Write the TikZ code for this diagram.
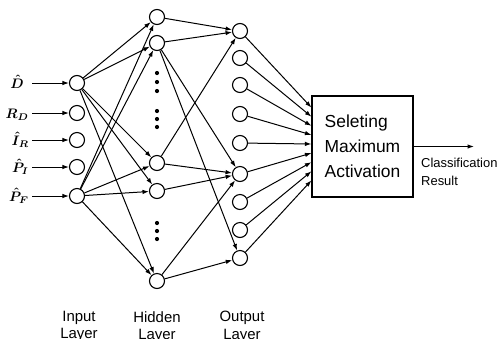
\documentclass[tikz,border=0pt]{standalone}
\usepackage{fontspec}
\setmainfont{Liberation Sans}
\usetikzlibrary{arrows.meta,calc}
\tikzset{
  neuron/.style={circle, draw, minimum size=15bp, inner sep=0pt, line width=1.1bp},
  conn/.style={-{Latex[length=6.5bp,width=4.5bp]}, line width=1bp},
  dotmark/.style={circle, fill, minimum size=4.2bp, inner sep=0pt},
  inlabel/.style={anchor=base east, inner sep=0pt},
  layerlabel/.style={anchor=north, inner sep=0pt, align=center, font=\fontsize{15}{17.5}\selectfont},
}
\newcommand{\inlab}[1]{\scalebox{1.38}{\boldmath$#1$}}
\begin{document}
\begin{tikzpicture}[x=1bp, y=-1bp]
\useasboundingbox (0,0) rectangle (504,338);

% input layer
\foreach \n/\y in {1/83, 2/113, 3/140, 4/167, 5/196} {
  \node[neuron] (i\n) at (77,\y) {};
}
% hidden layer
\foreach \n/\y in {1/17, 2/43, 3/163, 4/191, 5/281} {
  \node[neuron] (h\n) at (157,\y) {};
}
% output layer
\foreach \n/\y in {1/31, 2/58, 3/85, 4/114, 5/143, 6/174, 7/202, 8/230, 9/258} {
  \node[neuron] (o\n) at (240,\y) {};
}
% dots in hidden layer
\foreach \k/\y in {a/73, b/82, c/91, d/111, e/119, f/127, g/223, h/231, i/239} {
  \node[dotmark] (dot\k) at (157,\y) {};
}

% input labels and arrows
\node[inlabel] (l1) at (24,88) {\inlab{\hat{D}}};
\node[inlabel] (l2) at (29,118) {\inlab{R_D}};
\node[inlabel] (l3) at (29,145) {\inlab{\hat{I}_R}};
\node[inlabel] (l4) at (29,172) {\inlab{\hat{P}_I}};
\node[inlabel] (l5) at (29,201) {\inlab{\hat{P}_F}};
\foreach \n/\y in {1/83, 2/113, 3/140, 4/167, 5/196} {
  \coordinate (s\n) at (32,\y);
  \draw[conn] (s\n) -- (i\n);
}

% input -> hidden
\foreach \h in {1,...,5} {
  \draw[conn] (i1) -- (h\h);
  \draw[conn] (i5) -- (h\h);
}

% hidden -> output
\foreach \a/\b in {h1/o1, h2/o1, h3/o1, h2/o6, h3/o6, h4/o6, h5/o6, h2/o9, h5/o9} {
  \draw[conn] (\a) -- (\b);
}

% selection box
\node[draw, line width=1.1bp, minimum width=101bp, minimum height=101bp, inner sep=0pt,
      align=left, font=\fontsize{17.5}{25}\selectfont] (box) at (362.5,146.5)
      {Seleting\\Maximum\\Activation};

% output -> box
\foreach \n in {1,...,9} {
  \pgfmathsetmacro{\t}{0.119+0.0891*(\n-1)}
  \draw[conn] (o\n) -- ($(box.north west)!\t!(box.south west)$);
}

% result
\coordinate (res) at (474,146.5);
\draw[conn] (box.east) -- (res);
\node[anchor=west, inner sep=0pt, align=left, font=\fontsize{13}{17.5}\selectfont] (cls) at (421,172)
  {Classification\\Result};

% layer labels
\node[layerlabel] (li) at (79,311) {Input\\Layer};
\node[layerlabel] (lh) at (157,311) {Hidden\\Layer};
\node[layerlabel] (lo) at (242,311) {Output\\Layer};
\end{tikzpicture}
\end{document}
